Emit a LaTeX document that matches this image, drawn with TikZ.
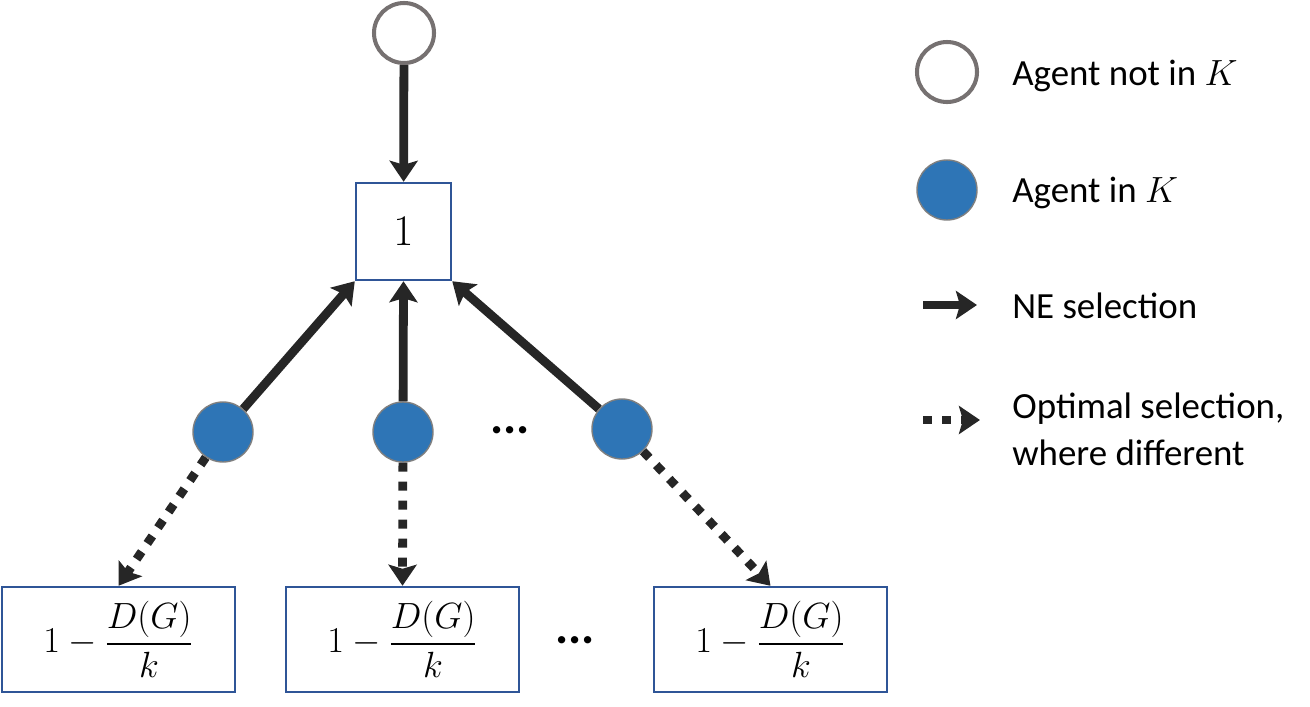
\documentclass[tikz,border=0pt]{standalone}
\usepackage{fontspec}
\setmainfont{Carlito}
\usepackage{amsmath}
\definecolor{agentblue}{RGB}{46, 117, 182}
\definecolor{ringgray}{RGB}{118, 113, 113}
\definecolor{rimgray}{RGB}{127, 127, 127}
\definecolor{boxblue}{RGB}{47, 85, 151}
\definecolor{arrowdark}{RGB}{38, 38, 38}
\usetikzlibrary{arrows.meta, positioning, calc}

\tikzset{
  outagent/.style={circle, draw=ringgray, line width=2.3pt, fill=white, minimum size=1.2cm, inner sep=0pt},
  inagent/.style={circle, draw=rimgray, line width=0.8pt, fill=agentblue, minimum size=1.2cm, inner sep=0pt},
  valbox/.style={draw=boxblue, line width=1.4pt, fill=white, inner sep=0pt},
  nesel/.style={draw=arrowdark, line width=5pt, -{Stealth[length=0.42cm, width=0.56cm, inset=0.08cm]}},
  optsel/.style={nesel, dash pattern=on 0.18cm off 0.2cm},
  legtext/.style={font=\fontsize{21}{26.7}\selectfont, anchor=base west, align=left, inner sep=0pt},
  moredots/.style={font=\fontsize{28}{30}\selectfont\bfseries, inner sep=0pt}
}

\begin{document}
\begin{tikzpicture}
  \useasboundingbox (0, 0) rectangle (26.2, -14.14);

  % outside agent and the value-1 box
  \node[outagent] (top) at (8.08, -0.66) {};
  \node[valbox, minimum width=1.9cm, minimum height=1.94cm, font=\fontsize{24}{28}\selectfont] (one) at (8.07, -4.63) {$1$};

  % agents in K
  \node[inagent] (ka) at (4.46, -8.64) {};
  \node[inagent] (kb) at (8.06, -8.64) {};
  \node[inagent] (kc) at (12.44, -8.58) {};
  \node[moredots] (kdots) at (10.2, -8.6) {...};

  % values under the optimum
  \node[valbox, minimum width=4.66cm, minimum height=2.1cm, font=\fontsize{19.5}{24}\selectfont] (va) at (2.37, -12.79) {$1-\dfrac{D(G)}{k}$};
  \node[valbox, minimum width=4.66cm, minimum height=2.1cm, font=\fontsize{19.5}{24}\selectfont] (vb) at (8.05, -12.79) {$1-\dfrac{D(G)}{k}$};
  \node[valbox, minimum width=4.66cm, minimum height=2.1cm, font=\fontsize{19.5}{24}\selectfont] (vc) at (15.41, -12.79) {$1-\dfrac{D(G)}{k}$};
  \node[moredots] (vdots) at (11.5, -12.8) {...};

  % NE selection
  \draw[nesel] (top) -- (one);
  \draw[nesel] (ka) -- (one.south west);
  \draw[nesel] (kb) -- (one.south);
  \draw[nesel] (kc) -- (one.south east);

  % optimal selection
  \draw[optsel] (ka) -- (va.north);
  \draw[optsel] (kb) -- (vb.north);
  \draw[optsel] (kc) -- (vc.north);

  % legend
  \node[outagent] (lgout) at (18.94, -1.44) {};
  \node[legtext] (lgouttext) at (20.24, -1.7) {Agent not in $K$};
  \node[inagent] (lgin) at (18.94, -3.8) {};
  \node[legtext] (lgintext) at (20.24, -4.04) {Agent in $K$};
  \coordinate (lgne1) at (18.46, -6.1);
  \coordinate (lgne2) at (19.54, -6.1);
  \draw[nesel] (lgne1) -- (lgne2);
  \node[legtext] (lgnetext) at (20.24, -6.36) {NE selection};
  \coordinate (lgopt1) at (18.46, -8.4);
  \coordinate (lgopt2) at (19.6, -8.4);
  \draw[optsel] (lgopt1) -- (lgopt2);
  \node[legtext] (lgopttext) at (20.24, -9.3) {Optimal selection,\\where different};
\end{tikzpicture}
\end{document}
